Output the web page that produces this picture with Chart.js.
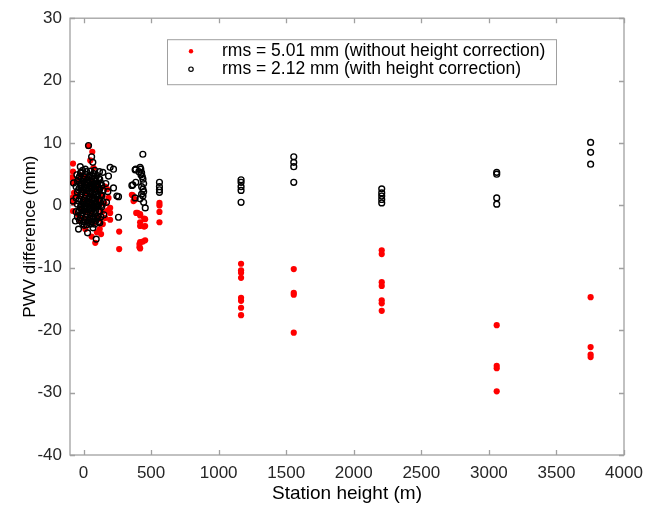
<!DOCTYPE html>
<html>
<head>
<meta charset="utf-8">
<script src="https://cdn.jsdelivr.net/npm/chart.js@4"></script>
<style>
  html, body { margin: 0; padding: 0; background: #fff; }
  canvas { display: block; }
</style>
</head>
<body>
<canvas id="myChart" width="657" height="508"></canvas>
<script>
// Series labels
const labelNoCorr = "rms = 5.01 mm (without height correction)";
const labelCorr = "rms = 2.12 mm (with height correction)";

// Station heights (m) and PWV differences (mm), without height correction
const heightNoCorr = [
    -78, -78, -78, -74, -78, -70, -85, -82,
    37, 65, 74, 50,
    -24, 13, 99, 87, 60, 143, 160, 120, 130,
    185, 197, 197, 197, 175, 180,
    264, 264,
    -40, -40, -40, -20, -20, -20, 0, 0, 0, 20, 20, 20,
    40, 40, 40, 60, 60, 60, 80, 80, 80, 100, 100, 100,
    120, 120, 120, 140, 140, 155, 160,
    358, 370, 365, 382, 390, 400, 419, 419, 449, 456, 419, 419, 449, 456, 419, 439, 456, 414, 414, 419,
    562, 562, 562, 562,
    1166, 1166, 1166, 1166, 1166, 1166, 1166, 1166,
    1556, 1556, 1556, 1556,
    2207, 2207, 2207, 2207, 2207, 2207, 2207,
    3058, 3058, 3058, 3058,
    3753, 3753, 3753, 3753
];
const diffNoCorr = [
    6.7, 5.4, 3.6, 0.5, -0.9, 2.0, 4.5, 1.2,
    9.5, 8.6, 6.0, 7.2,
    -2.5, -3.8, -4.3, -6.0, -5.0, -3.0, -2.0, -3.8, -4.6,
    1.2, -0.4, -1.2, -2.3, 2.6, -0.8,
    -4.2, -7.0,
    -1.5, 1.5, 4.0, -0.5, 2.5, 4.8, -2.0, 1.0, 3.5, -1.0, 2.0, 4.5,
    -2.5, 0.5, 3.0, -1.5, 1.5, 4.0, -2.8, 0.0, 2.5, -1.8, 1.0, 3.5,
    -2.2, 0.2, 2.8, -1.0, 1.5, 0.3, 3.0,
    1.7, 0.7, 1.6, 0.95, -1.2, -1.2, -1.4, -1.6, -2.1, -2.2, -2.7, -3.3, -3.4, -3.3, -5.9, -5.8, -5.6, -6.2, -6.7, -6.9,
    0.4, 0.0, -1.05, -2.7,
    -9.35, -10.4, -10.8, -11.6, -14.8, -15.3, -16.4, -17.6,
    -10.2, -14.0, -14.3, -20.4,
    -7.2, -7.8, -12.3, -12.9, -15.2, -15.7, -16.9,
    -19.2, -25.7, -26.1, -29.8,
    -14.7, -22.7, -23.9, -24.3
];

// Station heights (m) and PWV differences (mm), with height correction
const heightCorr = [
    -78, -74, -60, -49, -37, -24, 13, 37, 60, 69, 30, 94, 5, 70,
    118, 143, 120, 150, 170, 165, 180, 185, 197, 222, 222, 247, 259, 259,
    -45, -45, -45, -45,
    -30, -30, -30, -30, -30,
    -15, -15, -15, -15, -15,
    0, 0, 0, 0, 0,
    15, 15, 15, 15, 15,
    30, 30, 30, 30, 30,
    45, 45, 45, 45, 45,
    60, 60, 60, 60, 60,
    75, 75, 75, 75, 75,
    90, 90, 90, 90, 90,
    105, 105, 105, 105,
    120, 120, 120, 120,
    135, 135, 135,
    -55, -55, -55,
    -37, -37, -37, -37,
    -22, -22, -22, -22, -22,
    -7, -7, -7, -7, -7, -7,
    8, 8, 8, 8, 8,
    23, 23, 23, 23, 23, 23,
    38, 38, 38, 38, 38,
    53, 53, 53, 53, 53, 53,
    68, 68, 68, 68, 68,
    83, 83, 83, 83, 83, 83,
    98, 98, 98, 98, 98,
    113, 113, 113, 113, 113,
    128, 128, 128, 128,
    145, 145,
    -10, 5, 20, 35, 50, 65, 80, 95, 110,
    -10, 5, 20, 35, 50, 65, 80, 95, 110,
    439, 382, 419, 387, 424, 430, 435, 440, 445, 430, 440, 445, 430, 440, 382, 419, 445, 457, 358, 365, 387, 410, 425,
    562, 562, 562, 562,
    1166, 1166, 1166, 1166, 1166,
    1556, 1556, 1556, 1556,
    2207, 2207, 2207, 2207, 2207,
    3058, 3058, 3058, 3058,
    3753, 3753, 3753
];
const diffCorr = [
    0.7, 3.6, -2.5, 4.9, -3.8, 6.2, 5.8, 9.6, 7.8, 6.9, -4.4, -5.4, -3.2, -3.6,
    5.4, 5.3, -2.8, -1.5, 0.5, 3.5, 2.2, 4.7, 6.1, 5.8, 2.8, 1.5, 1.4, -1.9,
    -1.8, 0.2, 2.1, 3.9,
    -2.4, -0.8, 1.0, 2.8, 4.6,
    -1.6, 0.1, 1.9, 3.6, 5.3,
    -2.6, -0.9, 0.8, 2.5, 4.2,
    -1.9, -0.2, 1.6, 3.3, 5.0,
    -2.7, -1.0, 0.7, 2.4, 4.1,
    -2.0, -0.3, 1.4, 3.1, 4.8,
    -2.6, -0.9, 0.9, 2.6, 4.3,
    -1.9, -0.1, 1.7, 3.4, 5.1,
    -2.5, -0.8, 1.0, 2.7, 4.4,
    -1.7, 0.0, 1.8, 3.5,
    -0.9, 0.9, 2.6, 4.2,
    -0.2, 1.6, 3.2,
    -1.0, 1.2, 3.0,
    -1.1, 0.7, 2.5, 4.3,
    -2.0, -0.2, 1.6, 3.4, 5.2,
    -2.9, -1.2, 0.5, 2.2, 3.9, 5.6,
    -2.3, -0.6, 1.1, 2.9, 4.6,
    -3.1, -1.4, 0.3, 2.0, 3.7, 5.4,
    -2.4, -0.7, 1.0, 2.8, 4.5,
    -3.0, -1.3, 0.4, 2.1, 3.8, 5.5,
    -2.2, -0.5, 1.2, 3.0, 4.7,
    -3.0, -1.3, 0.4, 2.2, 3.9, 5.6,
    -2.0, -0.3, 1.4, 3.1, 4.8,
    -2.6, -0.9, 0.9, 2.5, 4.3,
    -1.8, 0.0, 1.7, 3.6,
    0.6, 2.4,
    -0.6, 0.2, -0.4, 0.3, -0.5, 0.1, -0.3, 0.2, -0.1,
    2.8, 3.6, 2.7, 3.5, 2.9, 3.7, 2.6, 3.4, 2.9,
    8.2, 5.7, 6.1, 5.8, 5.8, 5.2, 4.6, 4.2, 3.5, 3.0, 2.6, 2.2, 1.8, 1.5, 1.2, 1.06, 0.5, -0.4, 3.2, 3.3, 3.7, 5.4, 4.9,
    3.7, 3.0, 2.5, 2.1,
    4.1, 3.7, 3.0, 2.4, 0.5,
    7.8, 6.9, 6.2, 3.7,
    2.65, 2.0, 1.5, 0.95, 0.4,
    5.3, 5.0, 1.2, 0.2,
    10.1, 8.5, 6.6
];

// Axis ticks
const xTicks = [0, 500, 1000, 1500, 2000, 2500, 3000, 3500, 4000];
const yTicks = [-40, -30, -20, -10, 0, 10, 20, 30];

const axisColor = "#a0a0a0";
const textColor = "#262626";

const toPoints = (xs, ys) => xs.map((v, i) => ({ x: v, y: ys[i] }));

// Box with inward ticks on all four sides
const boxPlugin = {
    id: "box",
    beforeDatasetsDraw(chart) {
        const { ctx, chartArea: a, scales: { x, y } } = chart;
        ctx.save();
        ctx.strokeStyle = axisColor;
        ctx.lineWidth = 1.3;
        ctx.strokeRect(a.left, a.top, a.right - a.left, a.bottom - a.top);
        ctx.beginPath();
        xTicks.forEach((v) => {
            const px = Math.round(x.getPixelForValue(v)) + 0.5;
            ctx.moveTo(px, a.bottom); ctx.lineTo(px, a.bottom - 5);
            ctx.moveTo(px, a.top); ctx.lineTo(px, a.top + 5);
        });
        yTicks.forEach((v) => {
            const py = Math.round(y.getPixelForValue(v)) + 0.5;
            ctx.moveTo(a.left, py); ctx.lineTo(a.left + 5, py);
            ctx.moveTo(a.right, py); ctx.lineTo(a.right - 5, py);
        });
        ctx.stroke();
        ctx.restore();
    },
    afterDraw(chart) {
        // Legend box inside the plot
        const { ctx, chartArea: a } = chart;
        const left = a.left + 97, top = a.top + 21, w = 389, h = 45;
        ctx.save();
        ctx.fillStyle = "#fff";
        ctx.fillRect(left, top, w, h);
        ctx.strokeStyle = axisColor;
        ctx.lineWidth = 1;
        ctx.strokeRect(left + 0.5, top + 0.5, w, h);
        ctx.font = "17.5px 'Liberation Sans', Arial, sans-serif";
        ctx.textBaseline = "middle";
        ctx.fillStyle = "#000";
        ctx.fillText(labelNoCorr, left + 55, top + 12);
        ctx.fillText(labelCorr, left + 55, top + 30);
        ctx.beginPath();
        ctx.arc(left + 24, top + 12, 2.2, 0, Math.PI * 2);
        ctx.fillStyle = "red";
        ctx.fill();
        ctx.beginPath();
        ctx.arc(left + 24, top + 30, 2.2, 0, Math.PI * 2);
        ctx.strokeStyle = "#000";
        ctx.lineWidth = 1.2;
        ctx.stroke();
        ctx.restore();
    }
};

Chart.defaults.font.family = "'Liberation Sans', Arial, sans-serif";
Chart.defaults.color = textColor;

const ctx = document.getElementById("myChart").getContext("2d");
const myChart = new Chart(ctx, {
    type: "scatter",
    data: {
        datasets: [
            {
                label: labelCorr,
                data: toPoints(heightCorr, diffCorr),
                order: 0,
                pointRadius: 2.9,
                pointHoverRadius: 2.9,
                backgroundColor: "rgba(0,0,0,0)",
                borderColor: "#000",
                borderWidth: 1.4,
            },
            {
                label: labelNoCorr,
                data: toPoints(heightNoCorr, diffNoCorr),
                order: 1,
                pointRadius: 3.1,
                pointHoverRadius: 3.1,
                backgroundColor: "#ff0000",
                borderWidth: 0,
            },
        ],
    },
    options: {
        responsive: false,
        animation: false,
        layout: { padding: { top: 13, right: 33, left: 0, bottom: 0 } },
        plugins: {
            legend: { display: false },
            tooltip: { enabled: false },
        },
        scales: {
            x: {
                type: "linear",
                min: -100,
                max: 4000,
                afterBuildTicks: (scale) => { scale.ticks = xTicks.map((v) => ({ value: v })); },
                afterFit: (scale) => { scale.height = 53; },
                grid: { display: false, drawTicks: false },
                border: { display: false },
                ticks: {
                    padding: 8,
                    font: { size: 17 },
                    color: textColor,
                    maxRotation: 0,
                    callback: (v) => String(v),
                },
                title: {
                    display: true,
                    text: "Station height (m)",
                    font: { size: 19 },
                    color: "#000",
                    padding: { top: 0, bottom: 2.5 },
                },
            },
            y: {
                type: "linear",
                min: -40,
                max: 30,
                afterBuildTicks: (scale) => { scale.ticks = yTicks.map((v) => ({ value: v })); },
                afterFit: (scale) => { scale.width = 70; },
                grid: { display: false, drawTicks: false },
                border: { display: false },
                ticks: {
                    padding: 8,
                    font: { size: 17 },
                    color: textColor,
                    callback: (v) => String(v),
                },
                title: {
                    display: true,
                    text: "PWV difference (mm)",
                    font: { size: 17 },
                    color: "#000",
                    padding: { top: 20, bottom: 0 },
                },
            },
        },
    },
    plugins: [boxPlugin],
});
</script>
</body>
</html>
